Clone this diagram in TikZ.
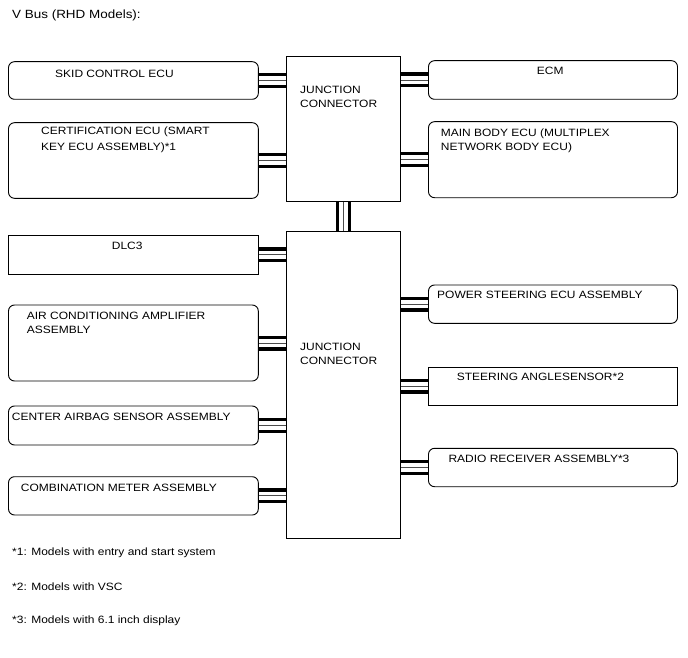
\documentclass[tikz,border=0pt]{standalone}
\usepackage{fontspec}
\setmainfont{Liberation Sans}[FakeStretch=1.13]
\usetikzlibrary{backgrounds}
\begin{document}
\begin{tikzpicture}[x=1pt,y=-1pt,
  box/.style={draw=black, line width=0.9pt, inner sep=0pt, outer sep=0pt, fill=white},
  rbox/.style={box, rounded corners=6pt},
  lbox/.style={minimum width=249.8pt},
  rtbox/.style={minimum width=249pt},
  jbox/.style={box, minimum width=114.4pt},
  txt/.style={anchor=base west, inner sep=0pt, font=\fontsize{10.6}{15}\selectfont},
  bus/.style={line width=15pt, draw=black,
    postaction={draw=white, line width=8.6pt},
    postaction={draw=black!70, line width=0.9pt}}]
\useasboundingbox (0,0) rectangle (688,658);

% title
\node[txt, font=\fontsize{11.9}{14}\selectfont] (title) at (12,19) {V Bus (RHD Models):};

% junction connectors
\node[jbox, minimum height=144.3pt] (j1) at (343.5,128.85) {};
\node[jbox, minimum height=306.6pt] (j2) at (343.5,385) {};

% left boxes
\node[rbox, lbox, minimum height=37.6pt] (skid) at (133.4,80.5) {};
\node[rbox, lbox, minimum height=75.6pt] (cert) at (133.4,160.5) {};
\node[box,  lbox, minimum height=38.3pt] (dlc) at (133.4,254.85) {};
\node[rbox, lbox, minimum height=76pt] (air) at (133.4,343) {};
\node[rbox, lbox, minimum height=39pt] (bag) at (133.4,425.5) {};
\node[rbox, lbox, minimum height=38.3pt] (meter) at (133.4,495.85) {};

% right boxes
\node[rbox, rtbox, minimum height=38.6pt] (ecm) at (553,80) {};
\node[rbox, rtbox, minimum height=76pt] (body) at (553,159.7) {};
\node[rbox, rtbox, minimum height=38.3pt] (eps) at (553,304.15) {};
\node[box,  rtbox, minimum height=37.7pt] (sas) at (553,386.15) {};
\node[rbox, rtbox, minimum height=38.4pt] (radio) at (553,467.5) {};

% buses
\begin{pgfonlayer}{background}
\draw[bus] (skid.east) -- (skid.east -| j1.west);
\draw[bus] (cert.east) -- (cert.east -| j1.west);
\draw[bus] (ecm.west) -- (ecm.west -| j1.east);
\draw[bus] (body.west) -- (body.west -| j1.east);
\draw[bus] (j1.south) -- (j2.north);
\draw[bus] (dlc.east) -- (dlc.east -| j2.west);
\draw[bus] (air.east) -- (air.east -| j2.west);
\draw[bus] (bag.east) -- (bag.east -| j2.west);
\draw[bus] (meter.east) -- (meter.east -| j2.west);
\draw[bus] (eps.west) -- (eps.west -| j2.east);
\draw[bus] (sas.west) -- (sas.west -| j2.east);
\draw[bus] (radio.west) -- (radio.west -| j2.east);
\end{pgfonlayer}

% texts
\node[txt] (t-skid) at (55,77.5) {SKID CONTROL ECU};
\node[txt] (t-cert1) at (41,135) {CERTIFICATION ECU (SMART};
\node[txt] (t-cert2) at (41,150) {KEY ECU ASSEMBLY)*1};
\node[txt] (t-j1a) at (300,94) {JUNCTION};
\node[txt] (t-j1b) at (300,107.5) {CONNECTOR};
\node[txt] (t-ecm) at (536.7,75) {ECM};
\node[txt] (t-body1) at (440.7,136) {MAIN BODY ECU (MULTIPLEX};
\node[txt] (t-body2) at (440.7,150.5) {NETWORK BODY ECU)};
\node[txt] (t-dlc) at (111.7,249.3) {DLC3};
\node[txt] (t-air1) at (26.7,319) {AIR CONDITIONING AMPLIFIER};
\node[txt] (t-air2) at (26.7,333.5) {ASSEMBLY};
\node[txt] (t-bag) at (11.7,420.7) {CENTER AIRBAG SENSOR ASSEMBLY};
\node[txt] (t-meter) at (20.7,491) {COMBINATION METER ASSEMBLY};
\node[txt] (t-j2a) at (300,350) {JUNCTION};
\node[txt] (t-j2b) at (300,364) {CONNECTOR};
\node[txt] (t-eps) at (437,298.3) {POWER STEERING ECU ASSEMBLY};
\node[txt] (t-sas) at (456.7,380) {STEERING ANGLESENSOR*2};
\node[txt] (t-radio) at (448.3,462.3) {RADIO RECEIVER ASSEMBLY*3};

% footnotes
\node[txt] (n1) at (12,555.5) {*1: Models with entry and start system};
\node[txt] (n2) at (12,590.5) {*2: Models with VSC};
\node[txt] (n3) at (12,623) {*3: Models with 6.1 inch display};
\end{tikzpicture}
\end{document}
